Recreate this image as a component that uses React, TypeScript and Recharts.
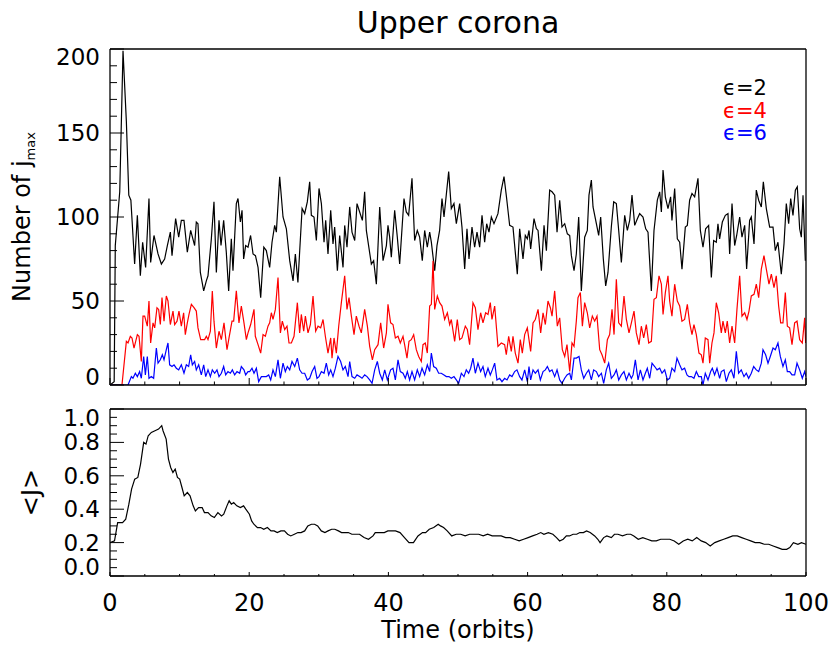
import React from 'react';
import { LineChart, Line, XAxis, YAxis, Legend } from 'recharts';

const FONT = '"DejaVu Sans", sans-serif';
const INK = '#000';

// number of j_max cells, read at the turning points of each curve: [time (orbits), count]
const eps2: [number, number][] = [
  [0, 0], [0.6, 2], [0.76, 83], [1.4, 115], [1.87, 199], [2.35, 157], [2.7, 113], [3.0, 110], [3.54, 72], [3.93, 101],
  [4.36, 65], [4.69, 85], [5.12, 70], [5.6, 111], [5.84, 73], [6.32, 89], [6.9, 78], [7.38, 72], [7.85, 75], [8.24, 83],
  [8.67, 91], [8.91, 77], [9.43, 99], [9.87, 88], [10.25, 98], [10.63, 98], [11.11, 79], [11.59, 92], [12.16, 83], [12.4, 97],
  [12.64, 96], [12.98, 67], [13.46, 56], [13.84, 62], [14.08, 65], [14.56, 87], [14.94, 109], [15.28, 67], [15.66, 98], [15.95, 83],
  [16.33, 98], [16.71, 79], [17.05, 56], [17.43, 87], [17.67, 68], [18.15, 108], [18.39, 111], [18.73, 97], [18.97, 104], [19.2, 75],
  [19.49, 83], [19.83, 82], [20.2, 89], [20.55, 78], [20.9, 77], [21.27, 70], [21.65, 52], [22.1, 82], [22.46, 80], [22.94, 70],
  [23.28, 85], [23.66, 95], [23.9, 91], [24.38, 124], [24.86, 100], [25.34, 93], [25.82, 74], [26.3, 62], [26.63, 78], [27.0, 61],
  [27.6, 105], [27.97, 102], [28.35, 109], [28.69, 121], [28.93, 101], [29.31, 100], [29.65, 86], [30.03, 117], [30.37, 108], [30.75, 85],
  [30.99, 98], [31.32, 78], [31.71, 104], [32.04, 84], [32.28, 94], [32.67, 68], [33.0, 89], [33.48, 70], [33.72, 95], [34.05, 82],
  [34.44, 106], [34.77, 91], [35.16, 86], [35.49, 108], [35.87, 103], [36.26, 98], [36.59, 115], [36.83, 92], [37.55, 72], [37.88, 74],
  [38.27, 60], [38.75, 106], [39.23, 74], [39.71, 83], [39.94, 95], [40.18, 88], [40.42, 76], [40.9, 104], [41.28, 88], [41.62, 72],
  [42.24, 111], [42.57, 103], [42.91, 101], [43.39, 123], [43.77, 86], [44.15, 92], [44.49, 88], [44.87, 74], [45.21, 92], [45.59, 82],
  [45.93, 91], [46.17, 85], [46.65, 68], [46.98, 83], [47.36, 92], [47.7, 111], [47.99, 100], [48.66, 127], [49.04, 105], [49.42, 108],
  [49.76, 96], [50.24, 108], [50.57, 94], [50.96, 69], [51.29, 93], [51.58, 75], [52.01, 94], [52.39, 82], [52.73, 91], [53.11, 82],
  [53.45, 101], [53.83, 85], [54.12, 96], [54.45, 91], [54.79, 100], [55.17, 96], [55.74, 102], [56.22, 116], [56.61, 124], [56.99, 111],
  [57.42, 95], [57.9, 94], [58.52, 66], [58.86, 93], [59.34, 75], [59.67, 89], [59.96, 87], [60.2, 92], [60.44, 81], [60.92, 99],
  [61.26, 93], [61.5, 92], [61.98, 68], [62.36, 95], [62.7, 80], [63.17, 116], [63.51, 115], [63.89, 113], [64.23, 91], [64.61, 110],
  [64.94, 94], [65.33, 96], [65.71, 90], [66.05, 89], [66.29, 77], [66.67, 68], [67.0, 78], [67.34, 100], [67.72, 56], [68.2, 88],
  [68.58, 92], [68.82, 113], [69.16, 122], [69.4, 106], [69.88, 96], [70.21, 89], [70.5, 100], [70.88, 75], [71.22, 59], [71.55, 67],
  [72.03, 94], [72.37, 109], [72.75, 108], [73.09, 92], [73.47, 73], [73.95, 101], [74.33, 92], [74.67, 98], [75.0, 113], [75.39, 95],
  [75.77, 99], [76.1, 102], [76.58, 100], [76.97, 93], [77.3, 91], [77.78, 56], [78.16, 92], [78.64, 110], [78.98, 115], [79.22, 103],
  [79.46, 128], [79.79, 112], [80.17, 105], [80.55, 112], [80.74, 98], [81.13, 117], [81.51, 87], [81.85, 85], [82.18, 69], [82.66, 94],
  [82.95, 95], [83.28, 110], [83.62, 114], [84.0, 112], [84.48, 123], [84.82, 92], [85.2, 82], [85.58, 93], [86.01, 95], [86.4, 64],
  [86.73, 86], [87.11, 85], [87.35, 96], [87.59, 87], [87.98, 97], [88.41, 101], [88.79, 102], [89.03, 78], [89.37, 108], [89.75, 83],
  [90.04, 89], [90.47, 100], [90.8, 88], [91.19, 95], [91.47, 69], [91.9, 98], [92.14, 100], [92.53, 84], [92.86, 116], [93.2, 110],
  [93.58, 106], [93.87, 121], [94.3, 105], [94.78, 94], [95.26, 94], [95.59, 80], [95.97, 85], [96.45, 66], [96.84, 84], [97.17, 108],
  [97.51, 96], [97.8, 111], [98.13, 101], [98.47, 116], [98.75, 118], [99.09, 93], [99.33, 88], [99.57, 113], [99.9, 74],
];

const eps4: [number, number][] = [
  [0, 0], [1.72, 0], [2.35, 26], [2.59, 25], [2.92, 29], [3.16, 28], [3.45, 22], [3.93, 30], [4.17, 29], [4.5, 14],
  [4.74, 41], [4.98, 41], [5.36, 35], [5.6, 50], [5.84, 25], [6.18, 37], [6.42, 34], [6.75, 46], [6.99, 45], [7.23, 36],
  [7.47, 52], [7.76, 38], [8.09, 53], [8.33, 50], [8.67, 36], [9.05, 44], [9.29, 36], [9.63, 38], [9.91, 44], [10.25, 35],
  [10.58, 43], [10.82, 30], [11.11, 37], [11.35, 42], [11.69, 48], [12.07, 46], [12.4, 44], [12.64, 34], [13.03, 27], [13.6, 27],
  [13.84, 29], [14.08, 27], [14.42, 32], [14.7, 56], [14.94, 38], [15.28, 22], [15.66, 32], [16.0, 27], [16.38, 37], [16.81, 21],
  [17.1, 28], [17.53, 38], [17.77, 38], [18.15, 56], [18.53, 37], [18.87, 47], [19.25, 37], [19.59, 27], [19.83, 31], [20.21, 36],
  [20.69, 45], [20.88, 29], [21.27, 24], [21.65, 19], [21.99, 30], [22.32, 29], [22.7, 35], [22.94, 37], [23.18, 43], [23.42, 39],
  [23.76, 45], [24.14, 64], [24.48, 31], [24.76, 38], [25.1, 33], [25.43, 35], [25.72, 25], [26.06, 25], [26.44, 29], [26.92, 49],
  [27.25, 31], [27.49, 42], [27.83, 32], [28.07, 41], [28.45, 31], [28.79, 36], [29.17, 53], [29.55, 32], [29.89, 35], [30.27, 34],
  [30.61, 39], [30.94, 29], [31.32, 19], [31.71, 28], [31.9, 16], [32.19, 28], [32.52, 19], [32.86, 35], [33.24, 49], [33.72, 65],
  [34.05, 45], [34.34, 52], [34.68, 41], [35.06, 30], [35.39, 41], [35.78, 35], [36.11, 31], [36.59, 45], [36.98, 35], [37.31, 23],
  [37.7, 15], [38.03, 21], [38.51, 24], [38.89, 37], [39.32, 22], [39.71, 31], [39.94, 48], [40.32, 37], [40.66, 36], [41.0, 28],
  [41.38, 29], [41.71, 25], [42.1, 29], [42.33, 24], [42.67, 16], [42.96, 26], [43.29, 27], [43.63, 30], [44.01, 21], [44.35, 17],
  [44.73, 14], [44.97, 24], [45.3, 25], [45.59, 19], [45.93, 47], [46.17, 48], [46.41, 74], [46.65, 45], [47.03, 53], [47.36, 49],
  [47.7, 47], [48.08, 39], [48.47, 43], [48.8, 36], [49.04, 39], [49.52, 26], [49.9, 39], [50.24, 27], [50.57, 28], [51.05, 35],
  [51.34, 33], [51.67, 24], [52.15, 49], [52.49, 46], [52.87, 33], [53.25, 43], [53.59, 37], [53.97, 43], [54.31, 42], [54.64, 49],
  [54.88, 39], [55.27, 47], [55.74, 23], [56.22, 25], [56.7, 24], [56.94, 18], [57.28, 29], [57.66, 20], [57.9, 29], [58.23, 19],
  [58.62, 13], [58.95, 27], [59.24, 19], [59.58, 30], [59.96, 34], [60.44, 20], [60.78, 37], [61.11, 39], [61.5, 45], [61.88, 31],
  [62.22, 43], [62.55, 36], [62.93, 50], [63.27, 46], [63.51, 41], [63.89, 56], [64.27, 35], [64.61, 40], [64.99, 21], [65.33, 17],
  [65.66, 24], [66.05, 8], [66.38, 25], [66.67, 23], [67.0, 38], [67.24, 52], [67.58, 55], [67.87, 35], [68.2, 49], [68.58, 43],
  [68.92, 34], [69.3, 41], [69.64, 38], [69.97, 41], [70.36, 21], [70.69, 18], [71.08, 13], [71.46, 27], [71.79, 30], [72.13, 45],
  [72.42, 30], [72.75, 63], [73.09, 37], [73.47, 35], [73.85, 53], [74.19, 39], [74.57, 31], [74.91, 37], [75.29, 44], [75.62, 31],
  [76.01, 24], [76.34, 35], [76.68, 28], [77.06, 36], [77.4, 25], [77.78, 26], [78.16, 51], [78.5, 52], [78.88, 65], [79.22, 60],
  [79.46, 42], [79.79, 55], [80.17, 65], [80.41, 50], [80.74, 41], [81.13, 60], [81.51, 50], [81.85, 47], [82.18, 38], [82.56, 39],
  [82.95, 48], [83.28, 37], [83.62, 30], [83.9, 36], [84.24, 30], [84.62, 19], [84.96, 18], [85.2, 13], [85.53, 28], [85.92, 27],
  [86.16, 13], [86.49, 25], [86.78, 31], [87.11, 49], [87.45, 43], [87.83, 31], [88.07, 38], [88.41, 31], [88.69, 38], [89.03, 25],
  [89.37, 35], [89.75, 25], [90.08, 45], [90.47, 65], [90.8, 41], [91.19, 43], [91.52, 39], [91.81, 44], [92.14, 53], [92.53, 54],
  [92.86, 60], [93.2, 52], [93.58, 69], [93.96, 77], [94.3, 69], [94.68, 60], [95.02, 66], [95.4, 58], [95.73, 65], [96.07, 47],
  [96.36, 37], [96.69, 37], [97.03, 55], [97.32, 35], [97.65, 34], [97.99, 24], [98.37, 37], [98.71, 38], [99.09, 27], [99.47, 25],
  [99.81, 40], [99.95, 25],
];

const eps6: [number, number][] = [
  [0, 0], [2.59, 0], [3.07, 5], [3.3, 4], [3.64, 7], [3.93, 5], [4.26, 8], [4.5, 4], [4.84, 17], [5.08, 6],
  [5.36, 17], [5.6, 4], [5.94, 5], [6.27, 4], [6.66, 22], [6.9, 13], [7.23, 15], [7.52, 18], [7.76, 15], [8.09, 21],
  [8.33, 25], [8.57, 12], [8.91, 11], [9.2, 12], [9.53, 10], [9.87, 9], [10.25, 12], [10.63, 7], [10.97, 12], [11.3, 11],
  [11.59, 18], [11.83, 12], [12.16, 14], [12.4, 9], [12.74, 12], [13.12, 6], [13.46, 12], [13.75, 5], [14.08, 9], [14.42, 5],
  [14.7, 9], [15.04, 7], [15.37, 9], [15.66, 5], [16.0, 7], [16.33, 11], [16.62, 6], [16.95, 8], [17.29, 7], [17.58, 9],
  [17.91, 6], [18.25, 8], [18.63, 7], [18.87, 11], [19.25, 9], [19.49, 6], [19.83, 8], [20.07, 8], [20.4, 10], [20.69, 7],
  [21.03, 10], [21.36, 2], [21.75, 5], [22.13, 5], [22.46, 5], [22.8, 6], [23.09, 3], [23.42, 9], [23.76, 5], [24.14, 15],
  [24.48, 4], [24.86, 13], [25.19, 8], [25.48, 11], [25.82, 9], [26.15, 14], [26.54, 11], [26.92, 16], [27.25, 9], [27.59, 7],
  [27.97, 7], [28.35, 3], [28.69, 4], [29.03, 8], [29.41, 11], [29.74, 4], [30.03, 5], [30.37, 8], [30.75, 7], [31.08, 13],
  [31.42, 6], [31.71, 9], [32.04, 5], [32.38, 10], [32.76, 17], [33.14, 14], [33.48, 9], [33.81, 11], [34.2, 5], [34.44, 14],
  [34.77, 5], [35.16, 4], [35.49, 6], [35.87, 5], [36.21, 4], [36.59, 6], [36.93, 5], [37.31, 3], [37.65, 1], [38.03, 9],
  [38.41, 14], [38.75, 7], [39.13, 3], [39.47, 9], [39.85, 3], [40.32, 9], [40.66, 10], [41.0, 3], [41.38, 15], [41.71, 8],
  [42.1, 7], [42.43, 4], [42.72, 8], [43.05, 3], [43.39, 8], [43.77, 3], [44.15, 9], [44.49, 5], [44.83, 10], [45.21, 6],
  [45.59, 12], [45.93, 8], [46.17, 19], [46.5, 11], [46.88, 10], [47.22, 7], [47.6, 7], [47.99, 6], [48.32, 5], [48.7, 5],
  [49.04, 4], [49.42, 5], [49.76, 3], [50.09, 1], [50.48, 7], [50.86, 5], [51.19, 9], [51.53, 7], [51.82, 10], [52.15, 16],
  [52.49, 7], [52.87, 13], [53.25, 8], [53.59, 11], [53.92, 5], [54.31, 10], [54.64, 6], [54.93, 9], [55.27, 13], [55.6, 3],
  [55.98, 4], [56.32, 2], [56.7, 4], [57.04, 3], [57.42, 6], [57.76, 5], [58.14, 8], [58.47, 9], [58.86, 5], [59.19, 3],
  [59.58, 9], [59.96, 2], [60.2, 11], [60.44, 3], [60.78, 9], [61.11, 7], [61.5, 9], [61.83, 3], [62.22, 8], [62.55, 9],
  [62.84, 11], [63.17, 8], [63.51, 9], [63.89, 5], [64.23, 9], [64.61, 3], [64.94, 1], [65.33, 4], [65.66, 6], [66.05, 7],
  [66.29, 3], [66.67, 16], [67.0, 16], [67.39, 17], [67.72, 9], [68.06, 4], [68.44, 7], [68.78, 9], [69.16, 3], [69.49, 9],
  [69.88, 8], [70.21, 5], [70.6, 7], [70.93, 1], [71.31, 9], [71.65, 13], [72.03, 4], [72.42, 6], [72.75, 9], [73.09, 3],
  [73.47, 6], [73.85, 8], [74.19, 3], [74.57, 7], [74.91, 4], [75.15, 6], [75.48, 15], [75.87, 3], [76.2, 9], [76.58, 3],
  [76.92, 7], [77.2, 10], [77.54, 4], [77.88, 13], [78.26, 11], [78.6, 9], [78.98, 10], [79.31, 7], [79.7, 9], [80.08, 3],
  [80.41, 4], [80.74, 10], [81.13, 8], [81.46, 16], [81.85, 12], [82.18, 9], [82.56, 10], [82.9, 6], [83.19, 5], [83.52, 5],
  [83.9, 4], [84.24, 8], [84.58, 5], [84.96, 5], [85.2, 0], [85.53, 7], [85.92, 3], [86.3, 8], [86.54, 10], [86.87, 6],
  [87.21, 10], [87.59, 4], [87.83, 8], [88.22, 9], [88.55, 2], [88.93, 7], [89.27, 9], [89.65, 4], [89.99, 20], [90.32, 7],
  [90.7, 9], [91.09, 5], [91.42, 7], [91.76, 4], [92.14, 7], [92.48, 11], [92.86, 9], [93.2, 8], [93.58, 13], [93.82, 21],
  [94.2, 18], [94.54, 13], [94.87, 17], [95.26, 22], [95.59, 21], [95.97, 25], [96.31, 17], [96.69, 11], [97.03, 15], [97.32, 8],
  [97.65, 8], [97.99, 6], [98.37, 6], [98.71, 13], [99.09, 9], [99.47, 4], [99.81, 8], [100, 5],
];

// <J> against time (orbits)
const meanJ: [number, number][] = [
  [0, 0.2], [0.65, 0.21], [1.1, 0.32], [1.8, 0.32], [2.26, 0.34], [2.71, 0.43], [3.1, 0.52], [3.55, 0.58], [4.0, 0.59], [4.39, 0.67],
  [4.84, 0.8], [5.17, 0.79], [5.49, 0.84], [5.94, 0.86], [6.46, 0.87], [6.98, 0.88], [7.43, 0.9], [7.62, 0.87], [8.07, 0.82], [8.4, 0.7],
  [8.72, 0.65], [9.04, 0.62], [9.37, 0.64], [9.69, 0.59], [10.01, 0.58], [10.34, 0.53], [10.66, 0.48], [11.11, 0.5], [11.5, 0.48], [11.95, 0.42],
  [12.27, 0.39], [12.73, 0.41], [13.24, 0.41], [13.57, 0.38], [14.08, 0.38], [14.53, 0.36], [14.99, 0.35], [15.5, 0.38], [16.02, 0.36], [16.34, 0.37],
  [16.8, 0.42], [17.12, 0.45], [17.44, 0.43], [17.77, 0.44], [18.22, 0.42], [18.73, 0.41], [19.19, 0.42], [19.51, 0.4], [20.03, 0.37], [20.35, 0.33],
  [20.67, 0.31], [21.19, 0.29], [21.64, 0.29], [22.09, 0.28], [22.61, 0.29], [23.13, 0.27], [23.58, 0.27], [24.03, 0.26], [24.55, 0.27], [25.06, 0.27],
  [25.52, 0.25], [25.97, 0.24], [26.49, 0.25], [27.0, 0.26], [27.45, 0.26], [27.97, 0.27], [28.42, 0.3], [28.94, 0.31], [29.39, 0.31], [29.84, 0.3],
  [30.36, 0.27], [30.88, 0.26], [31.33, 0.27], [31.85, 0.28], [32.3, 0.28], [32.82, 0.27], [33.27, 0.26], [33.79, 0.26], [34.24, 0.26], [34.75, 0.25],
  [35.21, 0.25], [35.85, 0.25], [36.5, 0.23], [37.14, 0.22], [37.79, 0.24], [38.11, 0.26], [38.76, 0.26], [39.41, 0.26], [39.92, 0.27], [40.37, 0.27],
  [41.02, 0.27], [41.67, 0.26], [42.31, 0.23], [42.96, 0.2], [43.6, 0.2], [44.25, 0.24], [44.9, 0.26], [45.35, 0.26], [45.87, 0.28], [46.51, 0.29],
  [47.16, 0.31], [47.48, 0.3], [47.93, 0.29], [48.45, 0.27], [49.1, 0.24], [49.74, 0.25], [50.39, 0.25], [51.03, 0.24], [51.68, 0.25], [52.33, 0.25],
  [52.97, 0.25], [53.62, 0.24], [54.26, 0.25], [54.91, 0.24], [55.56, 0.24], [56.2, 0.24], [56.85, 0.23], [57.49, 0.23], [58.14, 0.22], [58.79, 0.21],
  [59.43, 0.22], [60.08, 0.23], [60.72, 0.24], [61.37, 0.25], [61.89, 0.26], [62.34, 0.25], [62.98, 0.26], [63.63, 0.25], [64.15, 0.23], [64.6, 0.21],
  [65.12, 0.22], [65.57, 0.24], [66.02, 0.24], [66.54, 0.25], [67.05, 0.25], [67.51, 0.26], [68.02, 0.26], [68.47, 0.27], [68.99, 0.26], [69.64, 0.24],
  [70.09, 0.22], [70.41, 0.2], [70.93, 0.23], [71.38, 0.24], [72.03, 0.23], [72.48, 0.25], [72.98, 0.25], [73.64, 0.24], [74.29, 0.25], [74.81, 0.25],
  [75.26, 0.24], [75.9, 0.22], [76.55, 0.23], [77.2, 0.22], [77.84, 0.21], [78.49, 0.21], [79.13, 0.22], [79.78, 0.22], [80.43, 0.22], [81.07, 0.21],
  [81.72, 0.19], [82.36, 0.21], [83.01, 0.22], [83.66, 0.21], [84.3, 0.23], [84.95, 0.21], [85.59, 0.2], [86.24, 0.18], [86.89, 0.2], [87.53, 0.21],
  [88.18, 0.22], [88.82, 0.23], [89.47, 0.24], [90.12, 0.24], [90.76, 0.23], [91.41, 0.22], [92.05, 0.21], [92.7, 0.2], [93.35, 0.2], [93.99, 0.19],
  [94.64, 0.19], [95.28, 0.18], [95.93, 0.17], [96.58, 0.16], [97.22, 0.16], [97.67, 0.17], [98.19, 0.2], [98.84, 0.19], [99.35, 0.2], [100, 0.19],
];

const timeTicks = [0, 5, 10, 15, 20, 25, 30, 35, 40, 45, 50, 55, 60, 65, 70, 75, 80, 85, 90, 95, 100];
const timeMajor = [0, 20, 40, 60, 80, 100];
const countTicks = [0, 10, 20, 30, 40, 50, 60, 70, 80, 90, 100, 110, 120, 130, 140, 150, 160, 170, 180, 190, 200];
const countMajor = [0, 50, 100, 150, 200];
const jTicks = [0, 0.05, 0.1, 0.15, 0.2, 0.25, 0.3, 0.35, 0.4, 0.45, 0.5, 0.55, 0.6, 0.65, 0.7, 0.75, 0.8, 0.85, 0.9, 0.95, 1];
const jMajor = [0, 0.2, 0.4, 0.6, 0.8, 1];

const series = [
  { name: 'ϵ=2', color: '#000000', points: eps2 },
  { name: 'ϵ=4', color: '#ff0000', points: eps4 },
  { name: 'ϵ=6', color: '#0000ff', points: eps6 },
];

const toRows = (pts: [number, number][]) => pts.map(([t, v]) => ({ t, v }));
const isOn = (list: number[], v: number) => list.some((m) => Math.abs(m - v) < 1e-6);

type Side = 'bottom' | 'top' | 'left' | 'right';

// ticks point inward like the IDL frame; labels only where fmt is given
function axisTick(side: Side, majors: number[], majorLen: number, minorLen: number, fmt?: (v: number) => string, endShift = 0) {
  return (props: any) => {
    const { x, y, payload } = props;
    const value = payload.value;
    const major = isOn(majors, value);
    const len = major ? majorLen : minorLen;
    let x2 = x;
    let y2 = y;
    if (side === 'bottom') y2 = y - len;
    if (side === 'top') y2 = y + len;
    if (side === 'left') x2 = x + len;
    if (side === 'right') x2 = x - len;
    let label = null;
    if (fmt && major) {
      if (side === 'bottom') {
        label = (
          <text x={x} y={y + 27} dy="0.35em" textAnchor="middle" fontSize={24} fontFamily={FONT} fill={INK}>
            {fmt(value)}
          </text>
        );
      } else if (side === 'left') {
        const shift = isOn([majors[0]], value) ? -endShift : isOn([majors[majors.length - 1]], value) ? endShift : 0;
        label = (
          <text x={x - 10} y={y + shift} dy="0.35em" textAnchor="end" fontSize={23} fontFamily={FONT} fill={INK}>
            {fmt(value)}
          </text>
        );
      }
    }
    return (
      <g>
        <line x1={x} y1={y} x2={x2} y2={y2} stroke={INK} strokeWidth={1} />
        {label}
      </g>
    );
  };
}

const titleLabel = (props: any) => {
  const vb = props.viewBox || { x: 110, y: 48, width: 696, height: 1 };
  return (
    <text x={vb.x + vb.width / 2} y={vb.y + vb.height - 27} dy="0.35em" textAnchor="middle" fontSize={30} fontFamily={FONT} fill={INK}>
      Upper corona
    </text>
  );
};

const countTitle = (props: any) => {
  const vb = props.viewBox || { x: 50, y: 49, height: 336 };
  const cx = vb.x - 28;
  const cy = vb.y + vb.height / 2;
  return (
    <text x={cx} y={cy} dy="0.35em" textAnchor="middle" transform={`rotate(-90, ${cx}, ${cy})`} fontSize={24} fontFamily={FONT} fill={INK}>
      Number of j<tspan fontSize={13} dy={5}>max</tspan>
    </text>
  );
};

const jTitle = (props: any) => {
  const vb = props.viewBox || { x: 50, y: 409, height: 167 };
  const cx = vb.x - 19;
  const cy = vb.y + vb.height / 2;
  return (
    <text x={cx} y={cy} dy="0.35em" textAnchor="middle" transform={`rotate(-90, ${cx}, ${cy})`} fontSize={24} fontFamily={FONT} fill={INK}>
      {'<J>'}
    </text>
  );
};

const timeTitle = (props: any) => {
  const vb = props.viewBox || { x: 110, y: 576, width: 696 };
  return (
    <text x={vb.x + vb.width / 2} y={vb.y + 54} dy="0.35em" textAnchor="middle" fontSize={24} fontFamily={FONT} fill={INK}>
      Time (orbits)
    </text>
  );
};

const renderLegend = (props: any) => (
  <div style={{ fontFamily: FONT, fontSize: 21, lineHeight: '22.5px' }}>
    {(props.payload || []).map((e: any) => (
      <div key={e.value} style={{ color: e.color, height: 22.5 }}>{e.value}</div>
    ))}
  </div>
);

const frame = { stroke: INK, strokeWidth: 1.3 };

// axes of zero size are not drawn, so the mirrored ones get 1px and the margins give it back
const xAxisCommon = {
  type: 'number' as const,
  domain: [0, 100],
  allowDataOverflow: true,
  ticks: timeTicks,
  interval: 0,
  height: 1,
  tickSize: 0,
  tickMargin: 0,
  tickLine: false,
  axisLine: frame,
};

export default function App() {
  return (
    <div style={{ position: 'absolute', left: 0, top: 0, width: 830, height: 648, background: '#fff' }}>
      <div style={{ position: 'absolute', left: 0, top: 0 }}>
        <LineChart width={830} height={400} margin={{ top: 48, right: 23, bottom: 14, left: 50 }}>
          <XAxis {...xAxisCommon} dataKey="t" tick={axisTick('bottom', timeMajor, 7, 3.5)} />
          <XAxis {...xAxisCommon} xAxisId="top" orientation="top" tick={axisTick('top', timeMajor, 7, 3.5)} label={titleLabel} />
          <YAxis
            type="number"
            domain={[0, 200]}
            allowDataOverflow
            ticks={countTicks}
            interval={0}
            width={60}
            tickSize={0}
            tickMargin={0}
            tickLine={false}
            axisLine={frame}
            tick={axisTick('left', countMajor, 14, 7, (v) => String(v), 8)}
            label={countTitle}
          />
          <YAxis
            yAxisId="right"
            orientation="right"
            type="number"
            domain={[0, 200]}
            ticks={countTicks}
            interval={0}
            width={1}
            tickSize={0}
            tickMargin={0}
            tickLine={false}
            axisLine={frame}
            tick={axisTick('right', countMajor, 14, 7)}
          />
          <Legend
            layout="vertical"
            align="center"
            verticalAlign="middle"
            wrapperStyle={{ left: 723, top: 77, width: 'auto', height: 'auto' }}
            content={renderLegend}
          />
          {series.map((s) => (
            <Line
              key={s.name}
              data={toRows(s.points)}
              dataKey="v"
              name={s.name}
              type="linear"
              stroke={s.color}
              strokeWidth={1.2}
              dot={false}
              activeDot={false}
              isAnimationActive={false}
            />
          ))}
        </LineChart>
      </div>
      <div style={{ position: 'absolute', left: 0, top: 400 }}>
        <LineChart width={830} height={248} margin={{ top: 8, right: 23, bottom: 71, left: 50 }}>
          <XAxis {...xAxisCommon} dataKey="t" tick={axisTick('bottom', timeMajor, 4, 2, (v) => String(v))} label={timeTitle} />
          <XAxis {...xAxisCommon} xAxisId="top" orientation="top" tick={axisTick('top', timeMajor, 4, 2)} />
          <YAxis
            type="number"
            domain={[0, 1]}
            allowDataOverflow
            ticks={jTicks}
            interval={0}
            width={60}
            tickSize={0}
            tickMargin={0}
            tickLine={false}
            axisLine={frame}
            tick={axisTick('left', jMajor, 14, 7, (v) => v.toFixed(1), 9)}
            label={jTitle}
          />
          <YAxis
            yAxisId="right"
            orientation="right"
            type="number"
            domain={[0, 1]}
            ticks={jTicks}
            interval={0}
            width={1}
            tickSize={0}
            tickMargin={0}
            tickLine={false}
            axisLine={frame}
            tick={axisTick('right', jMajor, 14, 7)}
          />
          <Line
            data={toRows(meanJ)}
            dataKey="v"
            name="<J>"
            type="linear"
            stroke={INK}
            strokeWidth={1.2}
            dot={false}
            activeDot={false}
            isAnimationActive={false}
          />
        </LineChart>
      </div>
    </div>
  );
}
